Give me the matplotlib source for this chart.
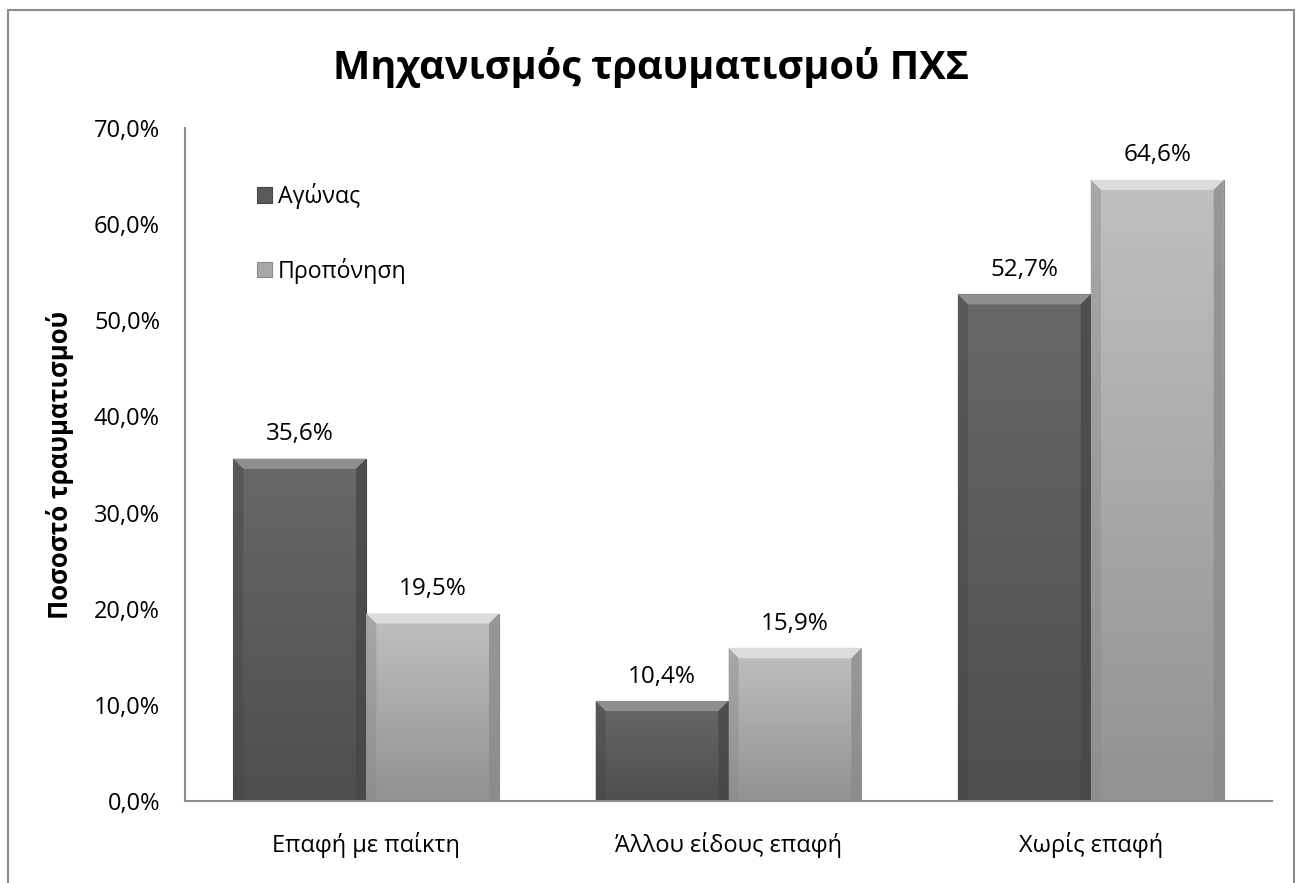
import matplotlib
matplotlib.use("Agg")
import matplotlib.pyplot as plt
import numpy as np
from matplotlib.colors import LinearSegmentedColormap
from matplotlib.patches import Polygon, Rectangle

categories = ["Επαφή με παίκτη", "Άλλου είδους επαφή", "Χωρίς επαφή"]
series_names = ["Αγώνας", "Προπόνηση"]
agonas = [35.6, 10.4, 52.7]
proponisi = [19.5, 15.9, 64.6]
yticks = [0, 10, 20, 30, 40, 50, 60, 70]

plt.rcParams["font.family"] = ["Open Sans", "DejaVu Sans"]

face = ["#5a5a5a", "#a8a8a8"]
grad = [("#4e4e4e", "#686868"), ("#929292", "#c0c0c0")]   # bottom, top
top_col = ["#8f8f8f", "#dcdcdc"]
side_col = ["#464646", "#8a8a8a"]

fig = plt.figure(figsize=(12.96, 8.83), dpi=100)
ax = fig.add_axes([185 / 1296, 1 - 801 / 883, (1272 - 185) / 1296, (801 - 128) / 883])

x = np.arange(len(categories))
w = 0.367
ramp = np.linspace(0, 1, 64).reshape(-1, 1)


def bevel_bar(ax, xs, vals, k):
    bars = ax.bar(xs, vals, width=w, color=face[k], edgecolor=side_col[k],
                  linewidth=0.8, zorder=2)
    cmap = LinearSegmentedColormap.from_list(f"g{k}", list(grad[k]))
    bh = 1.05   # bevel depth (y, data units)
    bw = 0.028  # bevel depth (x, data units)
    for b in bars:
        x0, x1 = b.get_x(), b.get_x() + b.get_width()
        h = b.get_height()
        im = ax.imshow(ramp, cmap=cmap, aspect="auto", origin="lower",
                       extent=(x0, x1, 0, h), zorder=2.5)
        im.set_clip_path(b)
        ax.add_patch(Polygon([(x0, h), (x1, h), (x1 - bw, h - bh), (x0 + bw, h - bh)],
                             closed=True, facecolor=top_col[k], edgecolor="none", zorder=3))
        ax.add_patch(Polygon([(x0, 0), (x0, h), (x0 + bw, h - bh), (x0 + bw, 0)],
                             closed=True, facecolor=side_col[k], edgecolor="none",
                             alpha=0.45, zorder=3))
        ax.add_patch(Polygon([(x1, 0), (x1, h), (x1 - bw, h - bh), (x1 - bw, 0)],
                             closed=True, facecolor=side_col[k], edgecolor="none",
                             alpha=0.75, zorder=3))
        ax.text(b.get_x() + b.get_width() / 2, h + 1.3, f"{h:.1f}%".replace(".", ","),
                ha="center", va="bottom", fontsize=17.5, color="#000000", zorder=4)
    return bars


b1 = bevel_bar(ax, x - w / 2, agonas, 0)
b2 = bevel_bar(ax, x + w / 2, proponisi, 1)

ax.set_xlim(-0.5, len(categories) - 0.5)
ax.set_ylim(0, 70)
ax.set_yticks(yticks)
ax.set_yticklabels([f"{v:.1f}%".replace(".", ",") for v in yticks], fontsize=17)
ax.set_xticks(x)
ax.set_xticklabels(categories, fontsize=17)
ax.tick_params(axis="y", length=0, pad=18)
ax.tick_params(axis="x", length=0, pad=22)

for s in ["top", "right"]:
    ax.spines[s].set_visible(False)
for s in ["left", "bottom"]:
    ax.spines[s].set_color("#8c8c8c")
    ax.spines[s].set_linewidth(1.5)
    ax.spines[s].set_zorder(5)

ax.set_ylabel("Ποσοστό τραυματισμού", fontsize=18.5, fontweight="bold", labelpad=14)
fig.text(651 / 1296, 1 - 67 / 883, "Μηχανισμός τραυματισμού ΠΧΣ",
         ha="center", va="center", fontsize=28.5, fontweight="bold")

leg = ax.legend([b1, b2], series_names, loc="upper left",
                bbox_to_anchor=(0.058, 0.932), frameon=False, fontsize=16.7,
                labelspacing=2.1, handlelength=0.65, handleheight=0.65,
                handletextpad=0.25, borderaxespad=0)

# outer chart border
fig.patches.append(Rectangle((8 / 1296, -0.05), (1294 - 8) / 1296, 1.05 - 10 / 883,
                             transform=fig.transFigure, fill=False,
                             edgecolor="#8c8c8c", linewidth=1.5))

fig.savefig("out.png", dpi=100)
